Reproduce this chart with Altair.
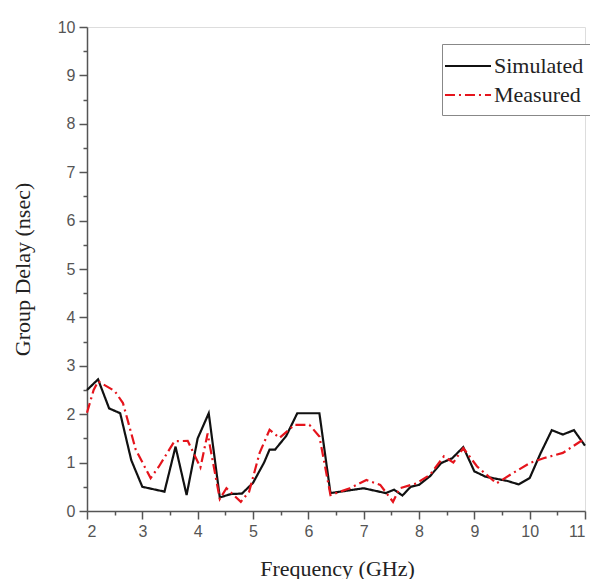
import altair as alt
import pandas as pd

sim_freq = [2.0, 2.2, 2.4, 2.6, 2.8, 3.0, 3.4, 3.6, 3.8, 4.0, 4.2, 4.4, 4.6, 4.8,
            5.0, 5.2, 5.3, 5.4, 5.6, 5.8, 6.2, 6.4, 7.0, 7.4, 7.55, 7.7, 7.85, 8.0,
            8.2, 8.4, 8.6, 8.8, 9.0, 9.2, 9.6, 9.8, 10.0, 10.2, 10.4, 10.6, 10.8, 11.0]
sim_delay = [2.5, 2.72, 2.12, 2.02, 1.05, 0.5, 0.4, 1.33, 0.33, 1.5, 2.02, 0.28, 0.35, 0.36,
             0.58, 1.0, 1.27, 1.27, 1.55, 2.02, 2.02, 0.37, 0.47, 0.37, 0.44, 0.32, 0.5, 0.54,
             0.72, 0.99, 1.09, 1.32, 0.82, 0.71, 0.62, 0.55, 0.68, 1.2, 1.67, 1.58, 1.67, 1.35]

meas_freq = [2.0, 2.12, 2.2, 2.5, 2.65, 2.88, 3.15, 3.3, 3.58, 3.82, 4.05, 4.18, 4.4, 4.52,
             4.78, 4.93, 5.12, 5.3, 5.48, 5.75, 6.02, 6.2, 6.4, 6.75, 7.05, 7.3, 7.53, 7.65,
             7.95, 8.2, 8.45, 8.62, 8.8, 9.05, 9.4, 9.65, 10.0, 10.25, 10.6, 11.0]
meas_delay = [2.03, 2.5, 2.68, 2.48, 2.23, 1.27, 0.68, 0.92, 1.44, 1.45, 0.9, 1.6, 0.25, 0.47,
              0.19, 0.4, 1.2, 1.68, 1.51, 1.78, 1.78, 1.54, 0.33, 0.47, 0.64, 0.54, 0.19, 0.47,
              0.57, 0.75, 1.13, 1.0, 1.3, 0.92, 0.57, 0.75, 0.99, 1.09, 1.2, 1.5]

series_names = ["Simulated", "Measured"]
series_colors = ["#111111", "#e5141c"]
series_dashes = [[1, 0], [10, 4, 2, 4]]

x_ticks = [2 + 0.5 * i for i in range(19)]
y_ticks = [0.5 * i for i in range(21)]

df = pd.concat([
    pd.DataFrame({"freq": sim_freq, "delay": sim_delay, "series": "Simulated",
                  "order": range(len(sim_freq))}),
    pd.DataFrame({"freq": meas_freq, "delay": meas_delay, "series": "Measured",
                  "order": range(len(meas_freq))}),
])

minor_size = {"condition": {"test": "datum.value % 1 !== 0", "value": 4}, "value": 8}
label_expr = "datum.value % 1 === 0 ? format(datum.value, 'd') : ''"

common_axis = dict(
    grid=False,
    labelFont="Liberation Sans", labelFontSize=16, labelColor="#555555",
    titleFont="Liberation Serif", titleFontSize=22, titleColor="#222222",
    titleFontWeight="normal",
    domainColor="#555555", domainWidth=1.5,
    tickColor="#555555", tickWidth=1.5,
    labelOverlap=False, labelPadding=4,
    titleAlign="center", titleBaseline="middle",
)

chart = alt.Chart(df).mark_line(strokeWidth=2.2).encode(
    x=alt.X("freq:Q", scale=alt.Scale(domain=[2, 11], nice=False, zero=False),
            axis=alt.Axis(values=x_ticks, labelExpr=label_expr, tickSize=minor_size,
                          title="Frequency (GHz)", titleX=250, titleY=57, **common_axis)),
    y=alt.Y("delay:Q", scale=alt.Scale(domain=[0, 10], nice=False),
            axis=alt.Axis(values=y_ticks, labelExpr=label_expr, tickSize=minor_size,
                          title="Group Delay (nsec)", titleX=-65, titleY=242, **common_axis)),
    color=alt.Color("series:N",
                    scale=alt.Scale(domain=series_names, range=series_colors),
                    legend=alt.Legend(title=None, orient="none", legendX=355, legendY=17,
                                      strokeColor="#888888", fillColor="white", padding=9,
                                      symbolType="M-2,0H2", symbolSize=530,
                                      symbolOffset=4,
                                      symbolStrokeWidth=2.2, labelFont="Liberation Serif",
                                      labelFontSize=22, labelColor="#222222",
                                      labelOffset=13, rowPadding=5)),
    strokeDash=alt.StrokeDash("series:N",
                              scale=alt.Scale(domain=series_names, range=series_dashes),
                              legend=None),
    order="order:Q",
).properties(
    width=498, height=484,
    autosize=alt.AutoSizeParams(type="none"),
    padding={"left": 79, "top": 19, "right": 5, "bottom": 68},
).configure_view(stroke=None).configure(background="white")

chart.save("out.html", embed_options={"renderer": "svg", "actions": False})
